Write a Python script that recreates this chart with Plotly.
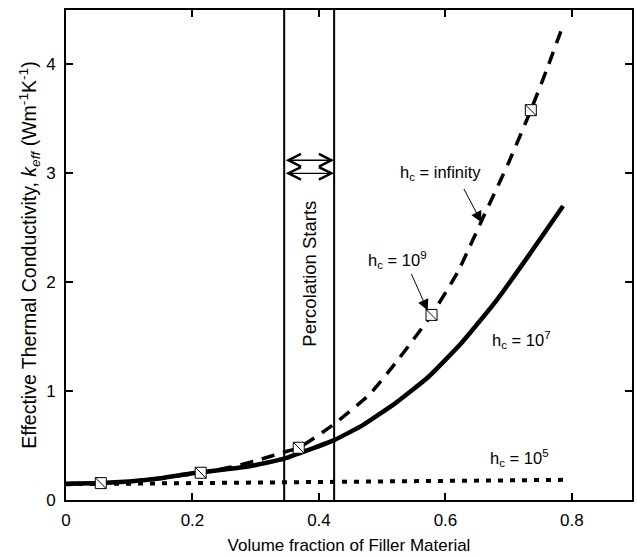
import plotly.graph_objects as go

# Effective thermal conductivity vs. filler volume fraction
# for several contact conductances h_c

vol_frac_inf = [0, 0.055, 0.1, 0.15, 0.213, 0.26, 0.3, 0.345, 0.368, 0.42,
                0.48, 0.52, 0.578, 0.62, 0.66, 0.7, 0.735, 0.76, 0.786]
k_inf = [0.145, 0.155, 0.17, 0.2, 0.25, 0.3, 0.36, 0.44, 0.48, 0.68,
         0.97, 1.25, 1.70, 2.1, 2.6, 3.1, 3.58, 3.95, 4.36]

vol_frac_1e7 = [0, 0.055, 0.1, 0.15, 0.2, 0.25, 0.29, 0.345, 0.424, 0.47,
                0.521, 0.573, 0.625, 0.679, 0.731, 0.786]
k_1e7 = [0.15, 0.155, 0.17, 0.2, 0.245, 0.28, 0.31, 0.38, 0.55, 0.69,
         0.89, 1.13, 1.44, 1.82, 2.24, 2.70]

vol_frac_1e5 = [0, 0.1, 0.2, 0.3, 0.4, 0.5, 0.6, 0.7, 0.786]
k_1e5 = [0.145, 0.15, 0.155, 0.158, 0.162, 0.166, 0.172, 0.178, 0.185]

# h_c = 1e9 points (square markers)
vol_frac_1e9 = [0.055, 0.213, 0.368, 0.578, 0.735]
k_1e9 = [0.155, 0.25, 0.48, 1.70, 3.58]

percolation_bounds = [0.345, 0.424]

FONT = "Liberation Sans, Arial, Helvetica, sans-serif"

fig = go.Figure()

fig.add_trace(go.Scatter(x=vol_frac_1e5, y=k_1e5, mode="lines",
                         line=dict(color="black", width=4, dash="5px,7px"),
                         showlegend=False))
fig.add_trace(go.Scatter(x=vol_frac_1e7, y=k_1e7, mode="lines",
                         line=dict(color="black", width=4.5, shape="spline",
                                   smoothing=0.4),
                         showlegend=False))
fig.add_trace(go.Scatter(x=vol_frac_inf, y=k_inf, mode="lines",
                         line=dict(color="black", width=3.5, dash="13px,9px",
                                   shape="spline", smoothing=0.5),
                         showlegend=False))
fig.add_trace(go.Scatter(x=vol_frac_1e9, y=k_1e9, mode="markers",
                         marker=dict(symbol="square", size=11, color="white",
                                     line=dict(color="black", width=1)),
                         showlegend=False))
fig.add_trace(go.Scatter(x=vol_frac_1e9, y=k_1e9, mode="markers",
                         marker=dict(symbol="line-nw", size=11,
                                     line=dict(color="black", width=1)),
                         showlegend=False))

for xb in percolation_bounds:
    fig.add_vline(x=xb, line=dict(color="black", width=2))

# double-headed arrows spanning the percolation band
for yv in [3.12, 3.0]:
    fig.add_annotation(x=percolation_bounds[1], y=yv, ax=percolation_bounds[0], ay=yv,
                       xref="x", yref="y", axref="x", ayref="y", text="",
                       showarrow=True, arrowhead=5, arrowside="end+start",
                       arrowsize=1.9, arrowwidth=1.3, arrowcolor="black")

fig.add_annotation(x=(percolation_bounds[0] + percolation_bounds[1]) / 2, y=2.08,
                   text="Percolation Starts", textangle=-90, showarrow=False,
                   font=dict(family=FONT, size=18.5, color="black"))

label_font = dict(family=FONT, size=16.5, color="black")

fig.add_annotation(x=0.592, y=3.0, text="h<sub>c</sub> = infinity",
                   showarrow=False, font=label_font)
fig.add_annotation(x=0.657, y=2.55, ax=0.628, ay=2.87, axref="x", ayref="y",
                   text="", showarrow=True, arrowhead=2, arrowsize=2.2,
                   arrowwidth=1, arrowcolor="black")

fig.add_annotation(x=0.524, y=2.2, text="h<sub>c</sub> = 10<sup>9</sup>",
                   showarrow=False, font=label_font)
fig.add_annotation(x=0.572, y=1.74, ax=0.545, ay=2.09, axref="x", ayref="y",
                   text="", showarrow=True, arrowhead=2, arrowsize=2.2,
                   arrowwidth=1, arrowcolor="black")

fig.add_annotation(x=0.72, y=1.47, text="h<sub>c</sub> = 10<sup>7</sup>",
                   showarrow=False, font=label_font)
fig.add_annotation(x=0.717, y=0.39, text="h<sub>c</sub> = 10<sup>5</sup>",
                   showarrow=False, font=label_font)

axis_common = dict(showline=True, linecolor="black", linewidth=2, mirror="ticks",
                   ticks="inside", ticklen=7, tickwidth=2, tickcolor="black",
                   showgrid=False, zeroline=False,
                   tickfont=dict(family=FONT, size=17, color="black"))

fig.update_xaxes(range=[0, 0.895], tickvals=[0, 0.2, 0.4, 0.6, 0.8],
                 ticktext=["0", "0.2", "0.4", "0.6", "0.8"],
                 title=dict(text="Volume fraction of Filler Material",
                            font=dict(family=FONT, size=17, color="black"),
                            standoff=10),
                 ticklabelstandoff=4, **axis_common)
fig.update_yaxes(range=[0, 4.5], tickvals=[0, 1, 2, 3, 4],
                 title=dict(text="Effective Thermal Conductivity, <i>k</i><sub><i>eff</i></sub> (Wm<sup>-1</sup>K<sup>-1</sup>)",
                            font=dict(family=FONT, size=19.5, color="black"),
                            standoff=4),
                 ticklabelstandoff=5, **axis_common)

fig.update_layout(width=637, height=558,
                  margin=dict(l=66, r=3, t=10, b=58),
                  plot_bgcolor="white", paper_bgcolor="white")

fig.write_html("out.html")
